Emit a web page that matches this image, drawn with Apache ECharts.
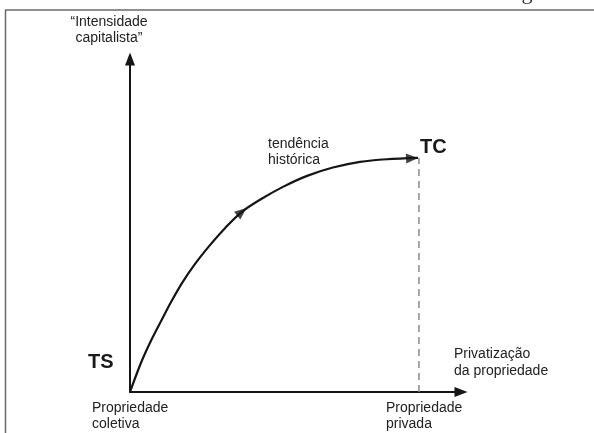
<!DOCTYPE html>
<html>
<head>
<meta charset="utf-8">
<script src="https://cdn.jsdelivr.net/npm/echarts@6/dist/echarts.min.js"></script>
<style>
html,body{margin:0;padding:0;background:#fff;}
#c{width:594px;height:433px;}
</style>
</head>
<body>
<div id="c"></div>
<script>
// Conceptual curve: "tendência histórica" from TS (origin) to TC
const curveX = [0, 3.3, 6.3, 9.4, 12.4, 15.7, 19.6, 23.9, 28.7, 33.8, 39.9, 46.2, 53.5, 61.3, 69.5, 77.6, 87.0];
const curveY = [0, 8.7, 15.3, 21.3, 27.0, 32.7, 38.4, 43.8, 49.2, 54.1, 58.1, 61.6, 64.9, 67.4, 69.1, 69.9, 70.3];
// arrow marks along the curve: [x, y, index of neighbour before, index after]
const arrowMarks = [[33.8, 54.1, 8, 10], [85.2, 70.2, 15, 16]];
const tcX = 87.3, tcY = 70.3;
const axisMin = 0, axisMax = 100;

const FONT = '"Liberation Sans", Arial, Helvetica, sans-serif';
const chart = echarts.init(document.getElementById('c'), null, {renderer: 'canvas'});

const curveData = curveX.map((x, i) => [x, curveY[i]]);
const GW = 331, GH = 333; // grid px size (for angle)
function angleOf(a, b) {
  const dx = (curveX[b] - curveX[a]) * GW / 100;
  const dy = (curveY[b] - curveY[a]) * GH / 100;
  return Math.atan2(dy, dx) * 180 / Math.PI;
}
const arrowData = arrowMarks.map(m => ({value: [m[0], m[1]], symbolRotate: angleOf(m[2], m[3]) - 90}));

const hiddenAxis = (extra) => Object.assign({
  type: 'value', min: axisMin, max: axisMax,
  axisLabel: {show: false}, axisTick: {show: false}, splitLine: {show: false},
  axisLine: {show: true, onZero: false, symbol: ['none', 'triangle'], symbolSize: [10, 13],
    lineStyle: {color: '#151515', width: 2}}
}, extra);

const txt = (text, x, y, opts) => ({
  type: 'text', z: 100,
  style: Object.assign({text: text, x: x, y: y, textAlign: 'left', textVerticalAlign: 'middle',
    font: '14px ' + FONT, fill: '#222', lineHeight: 16}, opts || {})
});

chart.setOption({
  animation: false,
  backgroundColor: '#ffffff',
  grid: {left: 130, right: 133, top: 59, bottom: 41},
  xAxis: hiddenAxis({}),
  yAxis: hiddenAxis({}),
  series: [
    {
      type: 'line', data: curveData, smooth: 0.33, symbol: 'none',
      lineStyle: {color: '#151515', width: 2.2}, z: 5
    },
    {
      type: 'line', data: [[tcX, 0], [tcX, tcY]], symbol: 'none',
      lineStyle: {color: '#8a8a8a', width: 1.5, type: [7, 5]}, z: 3
    },
    {
      type: 'scatter', data: arrowData, symbol: 'triangle', symbolSize: [10, 12],
      itemStyle: {color: '#151515'}, z: 6
    }
  ],
  graphic: [
    {type: 'line', shape: {x1: 5, y1: 10, x2: 594, y2: 10}, style: {stroke: '#6a6a6a', lineWidth: 1.5}},
    {type: 'line', shape: {x1: 5.5, y1: 10, x2: 5.5, y2: 433}, style: {stroke: '#6a6a6a', lineWidth: 1.5}},
    {type: 'text', style: {text: 'g', x: 527, y: 4, textAlign: 'center', textVerticalAlign: 'bottom',
      font: '22px "Liberation Serif", serif', fill: '#333'}},
    txt('“Intensidade\ncapitalista”', 109, 30, {textAlign: 'center'}),
    txt('TS', 88, 362, {font: 'bold 20px ' + FONT, fill: '#1a1a1a'}),
    txt('TC', 420, 147.5, {font: 'bold 20px ' + FONT, fill: '#1a1a1a'}),
    txt('tendência\nhistórica', 268, 152.5, {lineHeight: 16}),
    txt('Privatização\nda propriedade', 454, 362.5, {lineHeight: 17}),
    txt('Propriedade\ncoletiva', 92, 416, {lineHeight: 16}),
    txt('Propriedade\nprivada', 386, 416, {lineHeight: 16})
  ]
});
</script>
</body>
</html>
